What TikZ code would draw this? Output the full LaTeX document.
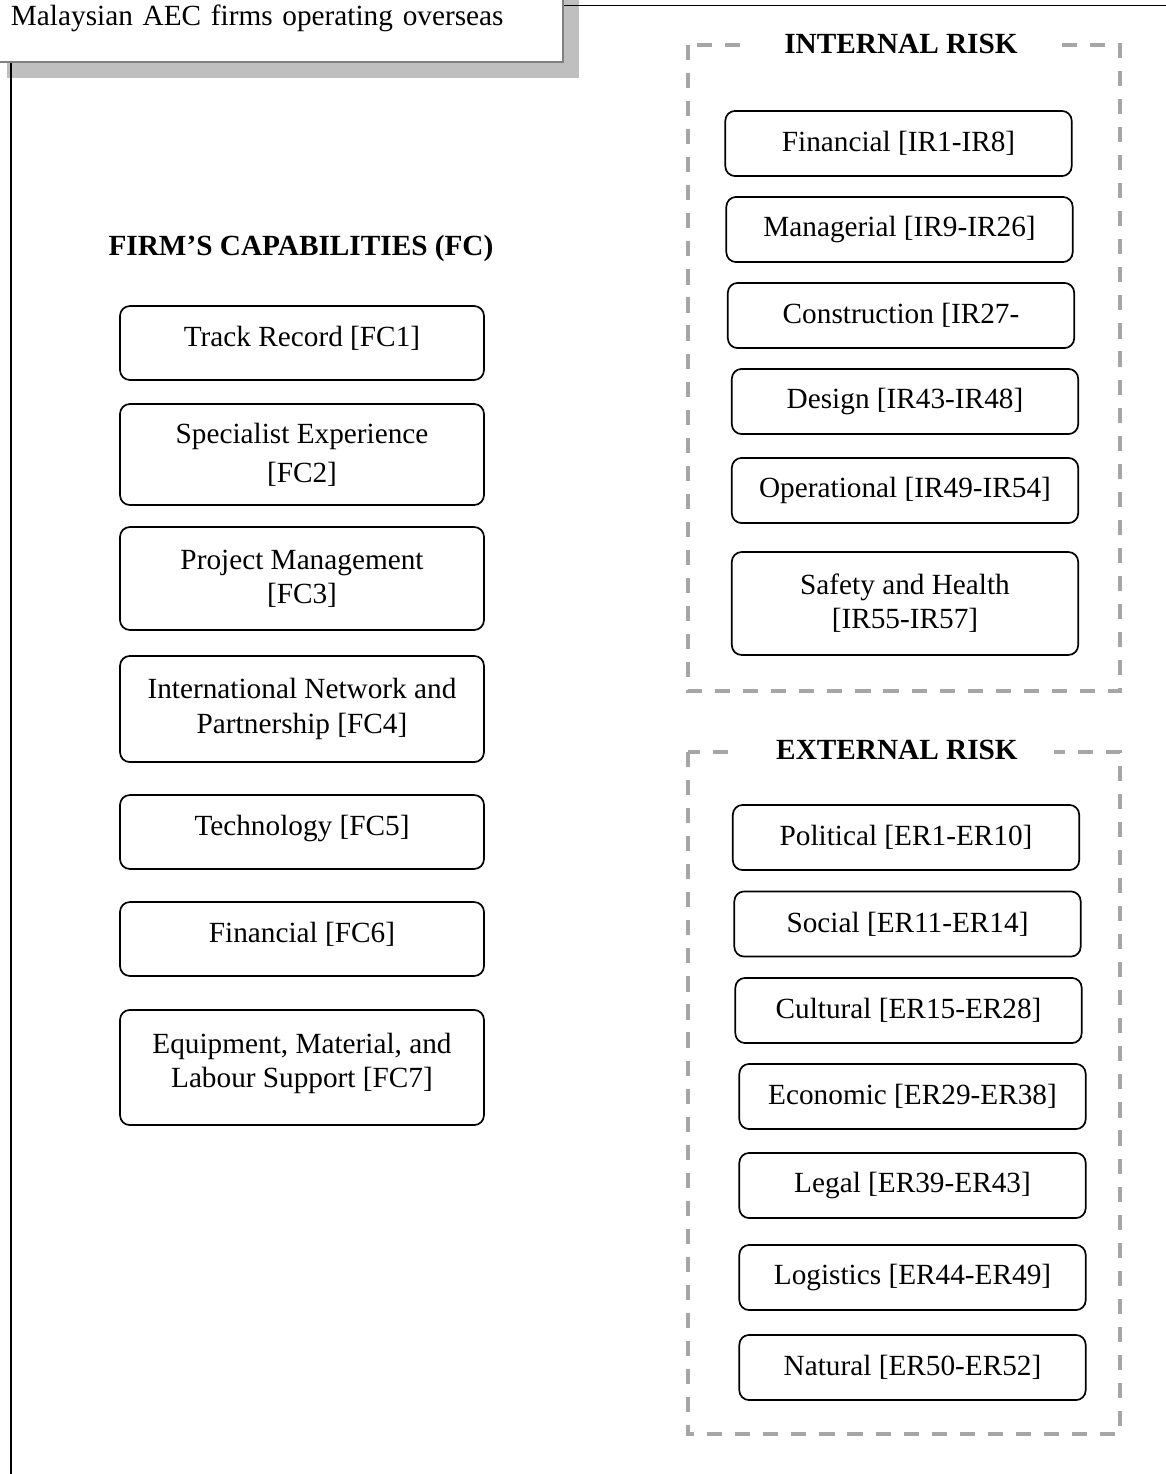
\documentclass[tikz,border=0pt]{standalone}
\usepackage{fontspec}
\setmainfont{Liberation Serif}
\usetikzlibrary{shapes.geometric, positioning, calc, shadows}
\definecolor{framegray}{RGB}{166,166,166}
\definecolor{shadowgray}{RGB}{191,191,191}
\definecolor{edgegray}{RGB}{128,128,128}

\begin{document}
\begin{tikzpicture}[x=0.41pt, y=-0.41pt,
  every node/.style={font=\fontsize{12}{14}\selectfont},
  fcbox/.style={draw, rounded corners=4pt, line width=0.7pt, align=center, minimum width=149.2pt},
  riskbox/.style={draw, rounded corners=4pt, line width=0.7pt, align=center, minimum width=142pt, minimum height=26.7pt},
  riskframe/.style={draw=framegray, line width=1.3pt, dash pattern=on 6.2pt off 5.3pt},
  framelabel/.style={fill=white, inner xsep=15pt, inner ysep=1pt, font=\fontsize{12}{14}\selectfont\bfseries},
  topbox/.style={draw=edgegray, line width=0.8pt, fill=white, align=left, inner xsep=8.2pt,
    drop shadow={shadow xshift=6.6pt, shadow yshift=-6.6pt, fill=shadowgray, opacity=1}}]
\useasboundingbox (0,0) rectangle (1166,1474);

% Firm box at the top
\node[topbox, text width=218pt, minimum height=36pt, anchor=south west] (aec) at (-10,63) {Malaysian AEC firms operating overseas};
\coordinate (topend) at (1166,5.5);
\coordinate (leftend) at (11,1474);
\draw[line width=0.8pt] (aec.east |- topend) -- (topend);
\draw[line width=0.8pt] (aec.south -| leftend) -- (leftend);

% Firm's capabilities
\node[font=\fontsize{12}{14}\selectfont\bfseries] (fctitle) at (301,248) {FIRM’S CAPABILITIES (FC)};
\node[fcbox, minimum height=30.3pt, text depth=5.5pt] (fc1) at (302,343) {Track Record [FC1]};
\node[fcbox, minimum height=41.4pt] (fc2) at (302,454.5) {Specialist Experience\\[2pt] [FC2]};
\node[fcbox, minimum height=42.2pt] (fc3) at (302,578.5) {Project Management\\[0pt] [FC3]};
\node[fcbox, minimum height=43.5pt] (fc4) at (302,709) {International Network and\\ Partnership [FC4]};
\node[fcbox, minimum height=30.3pt, text depth=5.5pt] (fc5) at (302,832) {Technology [FC5]};
\node[fcbox, minimum height=30.3pt, text depth=5.5pt] (fc6) at (302,939) {Financial [FC6]};
\node[fcbox, minimum height=47.2pt, text depth=6pt] (fc7) at (302,1067.5) {Equipment, Material, and\\ Labour Support [FC7]};

% Internal risk
\draw[riskframe] (688,45) rectangle (1120,691);
\node[framelabel] (irtitle) at (901,44) {INTERNAL RISK};
\node[riskbox] (ir1) at (898.5,143.5) {Financial [IR1-IR8]};
\node[riskbox] (ir2) at (899.5,229.5) {Managerial [IR9-IR26]};
\node[riskbox] (ir3) at (901,315.5) {Construction [IR27-};
\node[riskbox] (ir4) at (905,401.5) {Design [IR43-IR48]};
\node[riskbox] (ir5) at (905,490.5) {Operational [IR49-IR54]};
\node[riskbox, minimum height=42.2pt] (ir6) at (905,603.5) {Safety and Health\\[0pt] [IR55-IR57]};

% External risk
\draw[riskframe] (688,752) rectangle (1120,1434);
\node[framelabel] (ertitle) at (897,750) {EXTERNAL RISK};
\node[riskbox] (er1) at (906,837.5) {Political [ER1-ER10]};
\node[riskbox] (er2) at (907.5,924) {Social [ER11-ER14]};
\node[riskbox] (er3) at (908.5,1010.5) {Cultural [ER15-ER28]};
\node[riskbox] (er4) at (912.5,1096.5) {Economic [ER29-ER38]};
\node[riskbox] (er5) at (912.5,1185.5) {Legal [ER39-ER43]};
\node[riskbox] (er6) at (912.5,1277.5) {Logistics [ER44-ER49]};
\node[riskbox] (er7) at (912.5,1367.5) {Natural [ER50-ER52]};
\end{tikzpicture}
\end{document}
